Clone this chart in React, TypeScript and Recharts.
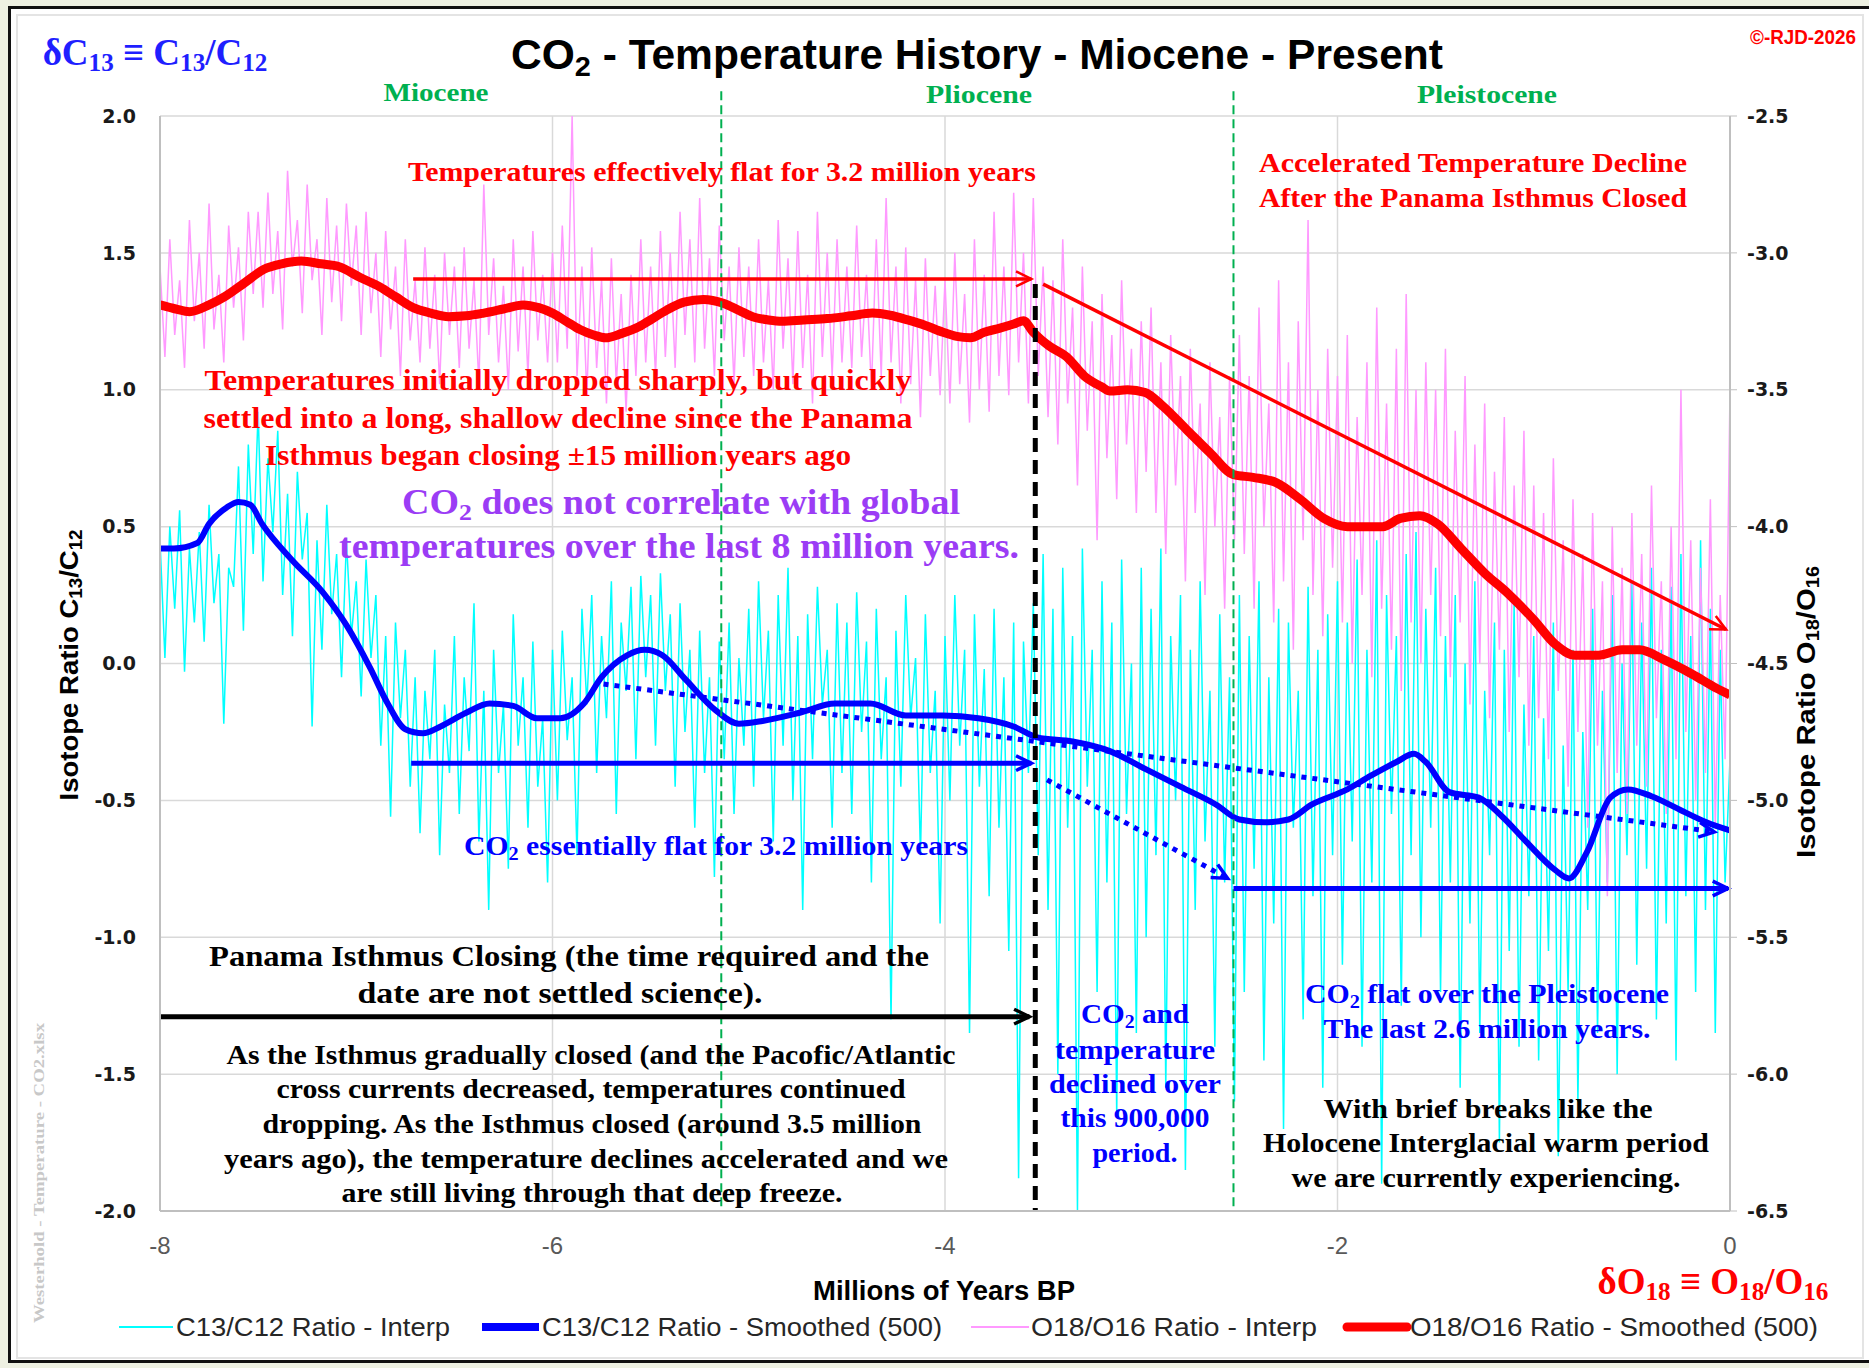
import React from "react";
import {
  ComposedChart,
  Line,
  XAxis,
  YAxis,
  CartesianGrid,
  ReferenceLine,
} from "recharts";

const W = 1869;
const H = 1368;

// interp series, one value every 25 kyr from -8.0 My to present
const AGE_STEP = 0.025;

const C13_INTERP = [
  0.45, 0.02, 0.5, 0.2, 0.56, -0.03, 0.42, 0.15, 0.48, 0.08, 0.58, 0.22, 0.4, -0.22, 0.35, 0.28, 0.72, 0.12, 0.8, 0.4,
  0.92, 0.3, 0.75, 0.48, 0.85, 0.25, 0.62, 0.1, 0.7, 0.38, 0.55, -0.23, 0.45, 0.05, 0.58, 0.18, 0.4, -0.05, 0.45, 0.1,
  0.3, -0.12, 0.38, 0.02, 0.25, -0.3, 0.1, -0.56, 0.15, -0.2, 0.05, -0.45, -0.05, -0.62, -0.1, -0.35, 0.05, -0.7, -0.15, -0.4,
  0.1, -0.55, -0.05, -0.32, 0.22, -0.65, -0.1, -0.9, 0.05, -0.4, -0.15, -0.75, 0.18, -0.3, -0.05, -0.6, 0.08, -0.45, -0.2, -0.8,
  0.05, -0.5, 0.12, -0.28, -0.05, -0.7, 0.2, -0.15, 0.25, -0.4, 0.1, -0.2, 0.3, -0.55, 0.15, -0.1, 0.28, -0.35, 0.32, -0.05,
  0.25, -0.3, 0.33, -0.1, 0.18, -0.45, 0.22, -0.25, 0.05, -0.6, 0.12, -0.4, -0.05, -0.78, 0.08, -0.35, 0.15, -0.55, 0.02, -0.3,
  0.2, -0.45, 0.3, -0.2, 0.12, -0.65, 0.25, -0.3, 0.35, -0.5, 0.1, -0.9, 0.18, -0.35, 0.28, -0.15, 0.05, -0.6, 0.22, -0.4,
  0.15, -0.55, 0.26, -0.25, 0.08, -0.8, 0.2, -0.35, -0.05, -1.3, 0.12, -0.45, 0.25, -0.2, 0.02, -0.7, 0.18, -0.4, -0.1, -0.95,
  0.1, -0.5, 0.25, -0.3, 0.05, -1.35, 0.18, -0.45, -0.02, -0.85, 0.2, -0.6, -0.05, -1.05, 0.15, -1.88, 0.08, -0.4, 0.22, -0.7,
  0.4, -0.9, 0.2, -1.5, 0.35, -0.6, 0.1, -2.0, 0.42, -0.45, 0.05, -1.2, 0.3, -0.8, 0.15, -1.65, 0.38, -0.55, 0.0, -1.35,
  0.35, -1.0, 0.2, -0.7, 0.42, -1.55, 0.1, -0.5, 0.25, -1.85, 0.05, -0.9, 0.3, -0.65, -0.1, -1.4, 0.18, -0.8, -0.05, -1.6,
  0.25, -1.2, 0.1, -0.75, 0.3, -1.45, -0.05, -0.95, 0.2, -1.7, 0.15, -0.6, -0.1, -1.3, 0.28, -0.85, 0.05, -1.55, 0.18, -0.7,
  0.3, -1.1, 0.15, -0.65, 0.38, -1.4, 0.05, -0.8, 0.45, -1.9, 0.25, -0.55, 0.1, -1.25, 0.4, -0.7, 0.48, -1.0, 0.2, -0.6,
  0.35, -1.2, 0.1, -0.8, 0.25, -1.55, 0.0, -0.95, 0.3, -1.35, -0.1, -0.7, 0.15, -1.75, 0.05, -1.05, 0.22, -1.4, -0.15, -0.85,
  0.1, -1.45, -0.2, -1.05, 0.15, -1.8, -0.3, -1.2, 0.05, -1.6, -0.25, -0.9, 0.2, -1.35, -0.1, -0.8, 0.25, -1.5, 0.0, -0.7,
  0.3, -1.1, 0.15, -0.75, 0.35, -1.3, 0.05, -0.95, 0.28, -1.45, 0.4, -0.85, 0.1, -1.2, 0.45, -0.9, 0.2, -1.35, 0.05, -0.8,
  -0.35,
];

const O18_INTERP = [
  -3.05, -3.38, -2.95, -3.3, -3.1, -3.42, -2.88, -3.25, -3.0, -3.35, -2.82, -3.28, -3.08, -3.4, -2.9, -3.2, -2.98, -3.32, -2.85, -3.15,
  -2.85, -3.2, -2.78, -3.15, -2.92, -3.28, -2.7, -3.05, -2.88, -3.22, -2.75, -3.1, -2.95, -3.3, -2.8, -3.18, -2.9, -3.25, -2.82, -3.12,
  -2.9, -3.3, -2.85, -3.22, -3.0, -3.38, -2.92, -3.28, -3.05, -3.45, -2.95, -3.32, -3.1, -3.4, -2.98, -3.35, -3.08, -3.48, -3.0, -3.3,
  -3.05, -3.42, -2.98, -3.35, -3.1, -3.48, -2.75, -3.3, -3.02, -3.4, -3.12, -3.5, -2.95, -3.36, -3.05, -3.45, -2.92, -3.32, -3.08, -3.4,
  -3.0, -3.4, -2.9, -3.35, -2.5, -3.45, -3.05, -3.52, -2.98, -3.42, -3.1, -3.55, -3.02, -3.48, -3.15, -3.58, -3.08, -3.45, -2.95, -3.4,
  -3.05, -3.45, -2.92, -3.38, -3.0, -3.42, -2.85, -3.3, -2.95, -3.4, -2.8, -3.35, -3.02, -3.45, -2.9, -3.32, -3.05, -3.48, -2.98, -3.38,
  -3.05, -3.45, -2.95, -3.4, -3.1, -3.5, -2.88, -3.35, -3.02, -3.48, -2.92, -3.42, -3.08, -3.55, -2.85, -3.38, -3.0, -3.45, -2.95, -3.4,
  -3.05, -3.42, -2.9, -3.38, -3.08, -3.5, -2.95, -3.45, -2.8, -3.4, -3.05, -3.55, -2.98, -3.48, -3.1, -3.6, -3.02, -3.45, -3.12, -3.52,
  -3.1, -3.55, -3.0, -3.48, -3.15, -3.62, -2.95, -3.5, -3.08, -3.58, -2.85, -3.45, -3.05, -3.52, -2.78, -3.4, -3.0, -3.55, -2.8, -3.45,
  -3.05, -3.6, -3.1, -3.7, -2.95, -3.55, -3.2, -3.85, -3.05, -3.65, -3.25, -4.05, -3.15, -3.75, -3.3, -3.9, -3.1, -3.7, -3.35, -3.95,
  -3.25, -3.8, -3.2, -3.95, -3.4, -4.1, -3.3, -3.85, -3.45, -4.2, -3.35, -3.95, -3.55, -4.25, -3.4, -4.0, -3.6, -4.3, -3.45, -4.05,
  -3.3, -4.1, -3.45, -4.3, -3.2, -4.0, -3.55, -4.35, -3.1, -4.2, -3.4, -4.45, -3.25, -4.05, -2.88, -4.25, -3.5, -4.4, -3.35, -4.15,
  -3.45, -4.35, -3.3, -4.5, -3.6, -4.25, -3.4, -4.55, -3.2, -4.3, -3.55, -4.45, -3.35, -4.6, -3.15, -4.35, -3.5, -4.5, -3.4, -4.25,
  -3.5, -4.4, -3.35, -4.55, -3.65, -4.35, -3.45, -4.65, -3.7, -4.5, -3.55, -4.7, -3.8, -4.45, -3.6, -4.75, -3.85, -4.55, -3.65, -4.8,
  -3.85, -4.7, -3.95, -4.85, -3.75, -4.6, -4.05, -4.95, -3.9, -4.75, -4.1, -5.1, -3.95, -4.8, -4.2, -5.35, -4.0, -4.9, -4.15, -5.05,
  -3.95, -4.8, -4.1, -4.95, -3.85, -4.7, -4.2, -5.05, -4.0, -4.85, -3.5, -4.75, -4.05, -5.0, -4.15, -4.9, -3.9, -5.1, -4.25, -4.85,
  -3.5,
];

// 500-point smoothed curves: [age (My), value]
const C13_SMOOTH: [number, number][] = [
  [-8, 0.42], [-7.93, 0.42], [-7.81, 0.44], [-7.75, 0.51], [-7.66, 0.57], [-7.6, 0.59], [-7.54, 0.58],
  [-7.48, 0.51], [-7.33, 0.38], [-7.17, 0.26], [-7.05, 0.14], [-6.93, -0.015], [-6.84, -0.146],
  [-6.75, -0.24], [-6.66, -0.255], [-6.57, -0.23], [-6.44, -0.18], [-6.32, -0.146], [-6.2, -0.155],
  [-6.08, -0.2], [-5.96, -0.2], [-5.84, -0.146], [-5.75, -0.05], [-5.62, 0.03], [-5.53, 0.05],
  [-5.44, 0.03], [-5.32, -0.06], [-5.17, -0.17], [-5.05, -0.22], [-4.93, -0.21], [-4.74, -0.18],
  [-4.56, -0.146], [-4.38, -0.146], [-4.2, -0.19], [-4.01, -0.19], [-3.83, -0.2], [-3.65, -0.23],
  [-3.53, -0.27], [-3.35, -0.285], [-3.16, -0.32], [-2.98, -0.385], [-2.8, -0.45], [-2.62, -0.515],
  [-2.5, -0.57], [-2.37, -0.58], [-2.25, -0.57], [-2.13, -0.515], [-1.95, -0.46], [-1.83, -0.41],
  [-1.7, -0.36], [-1.61, -0.33], [-1.55, -0.36], [-1.43, -0.47], [-1.28, -0.49], [-1.16, -0.56],
  [-1.04, -0.65], [-0.89, -0.755], [-0.82, -0.785], [-0.73, -0.69], [-0.61, -0.49], [-0.52, -0.46],
  [-0.4, -0.485], [-0.24, -0.54], [-0.12, -0.58], [0, -0.61],
];

const O18_SMOOTH: [number, number][] = [
  [-8, -3.19], [-7.92, -3.205], [-7.85, -3.215], [-7.75, -3.19], [-7.67, -3.16], [-7.57, -3.11],
  [-7.47, -3.06], [-7.38, -3.04], [-7.28, -3.03], [-7.18, -3.04], [-7.09, -3.05], [-6.98, -3.09],
  [-6.88, -3.124], [-6.8, -3.16], [-6.71, -3.2], [-6.62, -3.22], [-6.53, -3.233], [-6.44, -3.23],
  [-6.35, -3.22], [-6.25, -3.205], [-6.15, -3.19], [-6.07, -3.2], [-6.0, -3.22], [-5.93, -3.25],
  [-5.86, -3.28], [-5.79, -3.3], [-5.73, -3.31], [-5.65, -3.295], [-5.56, -3.27], [-5.49, -3.24],
  [-5.42, -3.21], [-5.33, -3.18], [-5.23, -3.17], [-5.13, -3.184], [-5.05, -3.21], [-4.98, -3.233],
  [-4.9, -3.245], [-4.83, -3.25], [-4.72, -3.245], [-4.6, -3.24], [-4.48, -3.23], [-4.37, -3.22],
  [-4.28, -3.228], [-4.19, -3.245], [-4.1, -3.265], [-4.01, -3.29], [-3.94, -3.305], [-3.87, -3.31],
  [-3.8, -3.29], [-3.72, -3.275], [-3.65, -3.26], [-3.6, -3.248], [-3.55, -3.29], [-3.47, -3.34],
  [-3.38, -3.38], [-3.29, -3.45], [-3.2, -3.49], [-3.16, -3.505], [-3.07, -3.5], [-2.98, -3.51],
  [-2.89, -3.56], [-2.77, -3.645], [-2.65, -3.73], [-2.53, -3.81], [-2.43, -3.82], [-2.31, -3.84],
  [-2.19, -3.9], [-2.07, -3.97], [-1.95, -4.0], [-1.86, -4.0], [-1.77, -4.0], [-1.68, -3.97],
  [-1.58, -3.96], [-1.49, -3.99], [-1.37, -4.08], [-1.25, -4.17], [-1.13, -4.245], [-1.0, -4.34],
  [-0.89, -4.43], [-0.79, -4.47], [-0.67, -4.47], [-0.55, -4.45], [-0.46, -4.45], [-0.34, -4.485],
  [-0.19, -4.54], [-0.07, -4.59], [0, -4.615],
];

const X_TICKS = [-8, -6, -4, -2, 0];
const LEFT_TICKS = [-2, -1.5, -1, -0.5, 0, 0.5, 1, 1.5, 2];
const RIGHT_TICKS = [-6.5, -6, -5.5, -5, -4.5, -4, -3.5, -3, -2.5];

const EPOCH_BOUNDS = [-5.14, -2.53];
const ISTHMUS_CLOSED = -3.54;

// trend arrows, in (age, C13 axis value)
type Arrow = { from: [number, number]; to: [number, number]; color: string; width: number; dash?: string };
const ARROWS: Arrow[] = [
  { from: [-6.71, 1.405], to: [-3.56, 1.405], color: "#ff0000", width: 3.5 },
  { from: [-3.5, 1.386], to: [-0.02, 0.124], color: "#ff0000", width: 3.5 },
  { from: [-6.72, -0.364], to: [-3.56, -0.364], color: "#0000ff", width: 5 },
  { from: [-5.74, -0.075], to: [-0.08, -0.615], color: "#0000ff", width: 5, dash: "5 6" },
  { from: [-3.48, -0.425], to: [-2.56, -0.785], color: "#0000ff", width: 5, dash: "5 6" },
  { from: [-2.53, -0.822], to: [-0.01, -0.822], color: "#0000ff", width: 5 },
  { from: [-8, -1.29], to: [-3.57, -1.29], color: "#000000", width: 5 },
];

const interpRows = C13_INTERP.map((c13, i) => ({
  age: +(-8 + i * AGE_STEP).toFixed(3),
  c13,
  o18: O18_INTERP[i],
}));
const c13Smooth = C13_SMOOTH.map(([age, v]) => ({ age, v }));
const o18Smooth = O18_SMOOTH.map(([age, v]) => ({ age, v }));

const SERIF = "'Liberation Serif', 'DejaVu Serif', 'Times New Roman', serif";
const SANS = "'Liberation Sans', Arial, sans-serif";
const WIDE = "'DejaVu Sans', Verdana, sans-serif";

const arrowShape = (a: Arrow) => (p: any) => {
  const { x1, y1, x2, y2 } = p;
  const ang = Math.atan2(y2 - y1, x2 - x1);
  const len = 17;
  const spread = 0.45;
  const h1 = `${x2 - len * Math.cos(ang - spread)},${y2 - len * Math.sin(ang - spread)}`;
  const h2 = `${x2 - len * Math.cos(ang + spread)},${y2 - len * Math.sin(ang + spread)}`;
  return (
    <g>
      <line x1={x1} y1={y1} x2={x2} y2={y2} stroke={a.color} strokeWidth={a.width} strokeDasharray={a.dash} />
      <polyline points={`${h1} ${x2},${y2} ${h2}`} fill="none" stroke={a.color} strokeWidth={Math.max(2.5, a.width - 1.5)} />
    </g>
  );
};

type AnnProps = {
  x: number;
  y: number;
  w?: number;
  size: number;
  color: string;
  font?: string;
  anchor?: "start" | "middle" | "end";
  weight?: string;
  rotate?: boolean;
  children: React.ReactNode;
};

const Ann = ({ x, y, w, size, color, font = SERIF, anchor = "middle", weight = "bold", rotate, children }: AnnProps) => (
  <text
    x={x}
    y={y}
    fill={color}
    fontFamily={font}
    fontWeight={weight}
    fontSize={size}
    textAnchor={anchor}
    dominantBaseline="central"
    textLength={w}
    lengthAdjust={w ? "spacingAndGlyphs" : undefined}
    transform={rotate ? `rotate(-90 ${x} ${y})` : undefined}
  >
    {children}
  </text>
);

const Sub = ({ size, sub, after }: { size: number; sub: string; after: string }) => (
  <>
    <tspan dy={size * 0.28} fontSize={size * 0.68}>{sub}</tspan>
    <tspan dy={-size * 0.28}>{after}</tspan>
  </>
);

const fmt = (v: number) => v.toFixed(1);

const App = () => {
  return (
    <div style={{ position: "absolute", left: 0, top: 0, width: W, height: H, background: "#eef1e2", overflow: "hidden" }}>
      <div style={{ position: "absolute", left: 8, top: 6, width: W, height: 1357, background: "#fff", border: "3px solid #111", boxSizing: "border-box" }} />
      <div style={{ position: "absolute", left: 16, top: 14, width: 1848, height: 1345, border: "2px solid #e4e4e4", boxSizing: "border-box" }} />

      <div style={{ position: "absolute", left: 0, top: 0 }}>
        <ComposedChart
          width={W}
          height={H}
          data={interpRows}
          margin={{ top: 116, right: 39, bottom: 97, left: 60 }}
        >
          <CartesianGrid yAxisId="left" stroke="#d9d9d9" strokeWidth={1.5} />
          <XAxis
            type="number"
            dataKey="age"
            domain={[-8, 0]}
            ticks={X_TICKS}
            allowDataOverflow
            height={60}
            tickLine={false}
            tickSize={6}
            tickMargin={20}
            axisLine={{ stroke: "#bfbfbf", strokeWidth: 2 }}
            tick={{ fill: "#595959", fontSize: 24, fontFamily: SANS }}
          />
          <YAxis
            yAxisId="left"
            domain={[-2, 2]}
            ticks={LEFT_TICKS}
            allowDataOverflow
            width={100}
            tickFormatter={fmt}
            tickLine={false}
            tickSize={6}
            tickMargin={18}
            axisLine={{ stroke: "#bfbfbf", strokeWidth: 2 }}
            tick={{ fill: "#1a1a1a", fontSize: 19, fontFamily: WIDE, fontWeight: "bold" }}
          />
          <YAxis
            yAxisId="right"
            orientation="right"
            domain={[-6.5, -2.5]}
            ticks={RIGHT_TICKS}
            allowDataOverflow
            width={100}
            tickFormatter={fmt}
            tickLine={{ stroke: "#bfbfbf" }}
            tickSize={7}
            tickMargin={10}
            axisLine={{ stroke: "#bfbfbf", strokeWidth: 2 }}
            tick={{ fill: "#1a1a1a", fontSize: 19, fontFamily: WIDE, fontWeight: "bold" }}
          />

          <Line yAxisId="left" dataKey="c13" type="linear" stroke="#00ffff" strokeWidth={1.5} dot={false} isAnimationActive={false} />
          <Line yAxisId="right" dataKey="o18" type="linear" stroke="#ff99ff" strokeWidth={1.5} dot={false} isAnimationActive={false} />
          <Line yAxisId="left" data={c13Smooth} dataKey="v" type="monotone" stroke="#0000ff" strokeWidth={6} dot={false} isAnimationActive={false} />
          <Line yAxisId="right" data={o18Smooth} dataKey="v" type="monotone" stroke="#ff0000" strokeWidth={9} dot={false} isAnimationActive={false} />

          {EPOCH_BOUNDS.map((x) => (
            <ReferenceLine
              key={x}
              yAxisId="left"
              segment={[{ x, y: 2.09 }, { x, y: -2 }]}
              ifOverflow="visible"
              stroke="#00b050"
              strokeWidth={2}
              strokeDasharray="9 5"
            />
          ))}
          <ReferenceLine
            yAxisId="left"
            segment={[{ x: ISTHMUS_CLOSED, y: 1.386 }, { x: ISTHMUS_CLOSED, y: -2 }]}
            ifOverflow="visible"
            stroke="#000"
            strokeWidth={5}
            strokeDasharray="14 8"
          />
          {ARROWS.map((a, i) => (
            <ReferenceLine
              key={i}
              yAxisId="left"
              segment={[{ x: a.from[0], y: a.from[1] }, { x: a.to[0], y: a.to[1] }]}
              ifOverflow="visible"
              shape={arrowShape(a)}
            />
          ))}
        </ComposedChart>
      </div>

      <svg width={W} height={H} style={{ position: "absolute", left: 0, top: 0, pointerEvents: "none" }}>
        {/* title and corner labels */}
        <Ann x={977} y={54} w={932} size={42} color="#000" font={SANS}>
          CO<Sub size={42} sub="2" after=" - Temperature History - Miocene - Present" />
        </Ann>
        <Ann x={155} y={52} size={37} color="#1f1fff">
          δC<Sub size={37} sub="13" after=" ≡ C" />
          <Sub size={37} sub="13" after="/C" />
          <tspan dy={37 * 0.28} fontSize={37 * 0.68}>12</tspan>
        </Ann>
        <Ann x={1803} y={36} w={106} size={21} color="#ff0000" font={SANS}>©-RJD-2026</Ann>
        <Ann x={1713} y={1281} size={37} color="#ff0000">
          δO<Sub size={37} sub="18" after=" ≡ O" />
          <Sub size={37} sub="18" after="/O" />
          <tspan dy={37 * 0.28} fontSize={37 * 0.68}>16</tspan>
        </Ann>
        <Ann x={39} y={1173} w={300} size={15} color="#c8c8c8" rotate>Westerhold - Temperature - CO2.xlsx</Ann>

        {/* epochs */}
        <Ann x={436} y={92} w={105} size={25} color="#00b050">Miocene</Ann>
        <Ann x={979} y={94} w={106} size={25} color="#00b050">Pliocene</Ann>
        <Ann x={1487} y={94} w={140} size={25} color="#00b050">Pleistocene</Ann>

        {/* axis titles */}
        <Ann x={69} y={665} w={271} size={26} color="#000" font={SANS} rotate>
          Isotope Ratio C<Sub size={26} sub="13" after="/C" />
          <tspan dy={26 * 0.28} fontSize={26 * 0.68}>12</tspan>
        </Ann>
        <Ann x={1806} y={712} w={292} size={26} color="#000" font={SANS} rotate>
          Isotope Ratio O<Sub size={26} sub="18" after="/O" />
          <tspan dy={26 * 0.28} fontSize={26 * 0.68}>16</tspan>
        </Ann>
        <Ann x={944} y={1291} w={262} size={27} color="#000" font={SANS}>Millions of Years BP</Ann>

        {/* red notes */}
        <Ann x={722} y={172} w={628} size={27} color="#ff0000">Temperatures effectively flat for 3.2 million years</Ann>
        <Ann x={1473} y={162} w={428} size={28} color="#ff0000">Accelerated Temperature Decline</Ann>
        <Ann x={1473} y={197} w={428} size={28} color="#ff0000">After the Panama Isthmus Closed</Ann>
        <Ann x={558} y={379} w={707} size={30} color="#ff0000">Temperatures initially dropped sharply, but quickly</Ann>
        <Ann x={558} y={417} w={709} size={30} color="#ff0000">settled into a long, shallow decline since the Panama</Ann>
        <Ann x={558} y={454} w={586} size={30} color="#ff0000">Isthmus began closing ±15 million years ago</Ann>

        {/* purple */}
        <Ann x={681} y={502} w={558} size={35} color="#9b3cf5">
          CO<Sub size={35} sub="2" after=" does not correlate with global" />
        </Ann>
        <Ann x={679} y={546} w={680} size={35} color="#9b3cf5">temperatures over the last 8 million years.</Ann>

        {/* blue notes */}
        <Ann x={716} y={846} w={504} size={27} color="#0000ff">
          CO<Sub size={27} sub="2" after=" essentially flat for 3.2 million years" />
        </Ann>
        <Ann x={1135} y={1014} w={108} size={27} color="#0000ff">
          CO<Sub size={27} sub="2" after=" and" />
        </Ann>
        <Ann x={1135} y={1050} w={160} size={27} color="#0000ff">temperature</Ann>
        <Ann x={1135} y={1084} w={172} size={27} color="#0000ff">declined over</Ann>
        <Ann x={1135} y={1118} w={149} size={27} color="#0000ff">this 900,000</Ann>
        <Ann x={1135} y={1153} w={85} size={27} color="#0000ff">period.</Ann>
        <Ann x={1487} y={994} w={364} size={27} color="#0000ff">
          CO<Sub size={27} sub="2" after=" flat over the Pleistocene" />
        </Ann>
        <Ann x={1487} y={1029} w={327} size={27} color="#0000ff">The last 2.6 million years.</Ann>

        {/* black notes */}
        <Ann x={569} y={955} w={720} size={30} color="#000">Panama Isthmus Closing (the time required and the</Ann>
        <Ann x={560} y={992} w={405} size={30} color="#000">date are not settled science).</Ann>
        <Ann x={591} y={1055} w={729} size={27} color="#000">As the Isthmus gradually closed (and the Pacofic/Atlantic</Ann>
        <Ann x={591} y={1089} w={629} size={27} color="#000">cross currents decreased, temperatures continued</Ann>
        <Ann x={592} y={1124} w={659} size={27} color="#000">dropping. As the Isthmus closed (around 3.5 million</Ann>
        <Ann x={586} y={1159} w={724} size={27} color="#000">years ago), the temperature declines accelerated and we</Ann>
        <Ann x={592} y={1193} w={501} size={27} color="#000">are still living through that deep freeze.</Ann>
        <Ann x={1488} y={1109} w={329} size={27} color="#000">With brief breaks like the</Ann>
        <Ann x={1486} y={1143} w={446} size={27} color="#000">Holocene Interglacial warm period</Ann>
        <Ann x={1486} y={1178} w={389} size={27} color="#000">we are currently experiencing.</Ann>

        {/* legend */}
        <line x1={119} y1={1327} x2={173} y2={1327} stroke="#00ffff" strokeWidth={2} />
        <Ann x={176} y={1327} w={274} size={25} color="#262626" font={SANS} anchor="start" weight="normal">C13/C12 Ratio - Interp</Ann>
        <line x1={482} y1={1327} x2={539} y2={1327} stroke="#0000ff" strokeWidth={8} />
        <Ann x={542} y={1327} w={400} size={25} color="#262626" font={SANS} anchor="start" weight="normal">C13/C12 Ratio - Smoothed (500)</Ann>
        <line x1={971} y1={1327} x2={1029} y2={1327} stroke="#ff99ff" strokeWidth={2} />
        <Ann x={1031} y={1327} w={286} size={25} color="#262626" font={SANS} anchor="start" weight="normal">O18/O16 Ratio - Interp</Ann>
        <line x1={1347} y1={1327} x2={1407} y2={1327} stroke="#ff0000" strokeWidth={9} strokeLinecap="round" />
        <Ann x={1410} y={1327} w={408} size={25} color="#262626" font={SANS} anchor="start" weight="normal">O18/O16 Ratio - Smoothed (500)</Ann>
      </svg>
    </div>
  );
};

export default App;
